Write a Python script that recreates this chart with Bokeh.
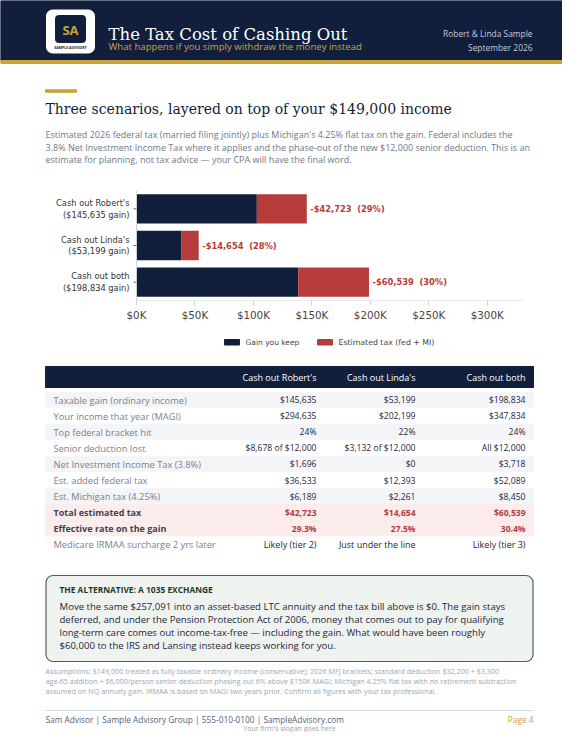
from bokeh.plotting import figure
from bokeh.layouts import column
from bokeh.models import Range1d, FactorRange, FixedTicker, ColumnDataSource
from bokeh.core.properties import value
from bokeh.embed import file_html
from bokeh.resources import INLINE

# ---------------- data ----------------
scenarios = ["Cash out Robert's", "Cash out Linda's", "Cash out both"]
gains = [145635, 53199, 198834]
taxes = [42723, 14654, 60539]
x_max = 331000
tick_values = [0, 50000, 100000, 150000, 200000, 250000, 300000]
tick_labels = ["$0K", "$50K", "$100K", "$150K", "$200K", "$250K", "$300K"]
series_names = ["Gain you keep", "Estimated tax (fed + MI)"]

col_heads = ["Cash out Robert's", "Cash out Linda's", "Cash out both"]
row_labels = ["Taxable gain (ordinary income)", "Your income that year (MAGI)",
              "Top federal bracket hit", "Senior deduction lost",
              "Net Investment Income Tax (3.8%)", "Est. added federal tax",
              "Est. Michigan tax (4.25%)", "Total estimated tax",
              "Effective rate on the gain", "Medicare IRMAA surcharge 2 yrs later"]
robert_col = ["$145,635", "$294,635", "24%", "$8,678 of $12,000", "$1,696", "$36,533",
              "$6,189", "$42,723", "29.3%", "Likely (tier 2)"]
linda_col = ["$53,199", "$202,199", "22%", "$3,132 of $12,000", "$0", "$12,393",
             "$2,261", "$14,654", "27.5%", "Just under the line"]
both_col = ["$198,834", "$347,834", "24%", "All $12,000", "$3,718", "$52,089",
            "$8,450", "$60,539", "30.4%", "Likely (tier 3)"]

# ---------------- styles ----------------
NAVY = "#111f3c"
GOLD = "#c9a23c"
RED = "#b63b3b"
SANS = "Open Sans"
SERIF = "DejaVu Serif"
W = 562


def page_fig(y0, y1):
    p = figure(width=W, height=y1 - y0, x_range=Range1d(0, W), y_range=Range1d(y1, y0),
               output_backend="svg", toolbar_location=None, min_border=0,
               x_axis_location=None, y_axis_location=None, outline_line_color=None)
    p.grid.visible = False
    p.background_fill_color = "white"
    p.border_fill_color = "white"
    return p


def txt(p, x, y, s, size, color, font=SANS, style="normal", align="left", baseline="middle"):
    p.text(x=[x], y=[y], text=[s], text_font=value(font), text_font_size=size,
           text_color=color, text_font_style=style, text_align=align, text_baseline=baseline)


# ---------------- top section ----------------
p1 = page_fig(0, 185)
p1.quad(left=[0], right=[W], top=[0], bottom=[60], color=NAVY)
p1.quad(left=[0], right=[W], top=[60], bottom=[63], color=GOLD)
p1.quad(left=[46], right=[94], top=[9.5], bottom=[52.5], color="white", border_radius=6)
p1.quad(left=[55], right=[85], top=[15], bottom=[42], color=NAVY, border_radius=3)
txt(p1, 70, 29, "SA", "13px", GOLD, style="bold", align="center")
txt(p1, 70, 47, "SAMPLE ADVISORY", "3.5px", NAVY, style="bold", align="center")
txt(p1, 108, 34, "The Tax Cost of Cashing Out", "16.5px", "white", font=SERIF, baseline="alphabetic")
txt(p1, 108, 45.5, "What happens if you simply withdraw the money instead", "9.6px", GOLD)
txt(p1, 532, 33, "Robert & Linda Sample", "8.4px", "#c3cad8", align="right")
txt(p1, 532, 46.5, "September 2026", "8.4px", "#c3cad8", align="right")

p1.quad(left=[45], right=[76], top=[89.3], bottom=[91.8], color=GOLD)
txt(p1, 45, 108.5, "Three scenarios, layered on top of your $149,000 income", "14px", NAVY,
    font=SERIF, baseline="alphabetic")
para = ["Estimated 2026 federal tax (married filing jointly) plus Michigan's 4.25% flat tax on the gain. Federal includes the",
        "3.8% Net Investment Income Tax where it applies and the phase-out of the new $12,000 senior deduction. This is an",
        "estimate for planning, not tax advice \u2014 your CPA will have the final word."]
for i, line in enumerate(para):
    txt(p1, 45, 134.3 + 12.5 * i, line, "9px", "#707888")

# ---------------- chart ----------------
AX_L, AX_R = 136, 523                     # pixel extent of the value axis
px_per = (AX_R - AX_L) / x_max
keep = [g - t for g, t in zip(gains, taxes)]
labels = [f"-${t:,} \u00a0({round(100 * t / g)}%)" for g, t in zip(gains, taxes)]
ylabels = [f"{s}\n(${g:,} gain)" for s, g in zip(scenarios, gains)]
src = ColumnDataSource(dict(scenario=scenarios, keep=keep, tax=taxes, gain=gains,
                            label=labels, ylabel=ylabels, zero=[0] * 3,
                            tick=[-3 / px_per] * 3))

p2 = figure(width=W, height=145, x_range=Range1d(-AX_L / px_per, (W - AX_L) / px_per),
            y_range=FactorRange(factors=scenarios[::-1]),
            output_backend="svg", toolbar_location=None, y_axis_location=None,
            min_border_left=0, min_border_right=0, min_border_top=5, min_border_bottom=30,
            outline_line_color=None)
p2.hbar_stack(["keep", "tax"], y="scenario", height=0.8, color=[NAVY, RED], source=src,
              line_color=None)
p2.text(x="gain", y="scenario", text="label", source=src, x_offset=3.5, text_baseline="middle",
        text_font=value("DejaVu Sans"), text_font_size="8.3px", text_font_style="bold",
        text_color=RED)
# value-axis baseline and category axis line / ticks / labels
p2.segment(x0=[0], x1=[x_max], y0=[0], y1=[0], line_color="#ccd3dd", line_width=1)
p2.segment(x0=[0], x1=[0], y0=[0], y1=[len(scenarios)], line_color="#ccd3dd", line_width=1)
p2.segment(x0="tick", x1="zero", y0="scenario", y1="scenario", source=src,
           line_color="#666666", line_width=1)
p2.text(x="zero", y="scenario", text="ylabel", source=src, x_offset=-7, text_align="right",
        text_baseline="middle", text_font=value("DejaVu Sans"), text_font_size="8.3px",
        text_color="#333333", text_line_height=1.15)
p2.grid.visible = False
p2.xaxis.ticker = FixedTicker(ticks=tick_values)
p2.xaxis.major_label_overrides = dict(zip(tick_values, tick_labels))
p2.xaxis.axis_line_color = None
p2.xaxis.major_tick_line_color = "#ccd3dd"
p2.xaxis.major_tick_out = 5
p2.xaxis.major_tick_in = 0
p2.xaxis.minor_tick_line_color = None
p2.xaxis.major_label_text_font = "DejaVu Sans"
p2.xaxis.major_label_text_font_size = "10.3px"
p2.xaxis.major_label_text_color = "#444444"
p2.xaxis.major_label_standoff = 3
p2.background_fill_color = "white"
p2.border_fill_color = "white"

# ---------------- lower section ----------------
p3 = page_fig(330, 732)
# legend
p3.quad(left=[224], right=[239], top=[339], bottom=[344.5], color=NAVY)
txt(p3, 245, 342, series_names[0], "7.5px", "#444444", font="DejaVu Sans")
p3.quad(left=[317], right=[332], top=[339], bottom=[344.5], color=RED)
txt(p3, 338, 342, series_names[1], "7.8px", "#444444", font="DejaVu Sans")

# table header
p3.quad(left=[45], right=[533], top=[366], bottom=[387], color=NAVY)
col_x = [316, 415, 525]
for cx, h in zip(col_x, col_heads):
    txt(p3, cx, 377, h, "9px", "white", align="right")

row_fill = ["#f3f5f8", "#ffffff", "#f3f5f8", "#ffffff", "#f3f5f8", "#ffffff", "#f3f5f8",
            "#fcecec", "#fcecec", "#ffffff"]
rh = 16.1
for i, lab in enumerate(row_labels):
    top = 391.5 + rh * i
    yc = top + rh / 2
    p3.quad(left=[45], right=[533], top=[top], bottom=[top + rh], color=row_fill[i])
    if i in (7, 8):
        txt(p3, 53, yc, lab, "9px", "#3f4452", style="bold")
        vcol, vstyle, vsize = "#b23a3e", "bold", "8.5px"
    elif i == 9:
        txt(p3, 53, yc, lab, "9.3px", "#7a808c")
        vcol, vstyle, vsize = "#1c1f26", "normal", "9px"
    else:
        txt(p3, 53, yc, lab, "9.3px", "#7a808c")
        vcol, vstyle, vsize = "#1e2740", "normal", "8.6px"
    for cx, colv in zip(col_x, [robert_col, linda_col, both_col]):
        txt(p3, cx, yc, colv[i], vsize, vcol, style=vstyle, align="right")

# callout
p3.quad(left=[45.5], right=[532.5], top=[575], bottom=[661], fill_color="#eef3ef",
        line_color="#4d6357", line_width=1.2, border_radius=7)
txt(p3, 59, 589, "THE ALTERNATIVE: A 1035 EXCHANGE", "8.4px", "#1f3a2b", style="bold")
callout = ["Move the same $257,091 into an asset-based LTC annuity and the tax bill above is $0. The gain stays",
           "deferred, and under the Pension Protection Act of 2006, money that comes out to pay for qualifying",
           "long-term care comes out income-tax-free \u2014 including the gain. What would have been roughly",
           "$60,000 to the IRS and Lansing instead keeps working for you."]
for i, line in enumerate(callout):
    txt(p3, 59, 605.5 + 13.2 * i, line, "9.6px", "#1e2740")

assump = ["Assumptions: $149,000 treated as fully taxable ordinary income (conservative); 2026 MFJ brackets; standard deduction $32,200 + $3,300",
          "age-65 addition + $6,000/person senior deduction phasing out 6% above $150K MAGI; Michigan 4.25% flat tax with no retirement subtraction",
          "assumed on NQ annuity gain. IRMAA is based on MAGI two years prior. Confirm all figures with your tax professional."]
for i, line in enumerate(assump):
    txt(p3, 45, 670 + 10.3 * i, line, "7.2px", "#a0a6b0")

p3.segment(x0=[45], x1=[533], y0=[710], y1=[710], line_color="#d3dae4", line_width=1)
txt(p3, 45, 718.5, "Sam Advisor  |  Sample Advisory Group  |  555-010-0100  |  SampleAdvisory.com", "8.3px", "#566078")
txt(p3, 533, 718.5, "Page 4", "8.3px", GOLD, align="right")
txt(p3, 289, 728, "Your firm's slogan goes here", "7px", "#9ba1ab", align="center")

layout = column(p1, p2, p3, spacing=0)
open("out.html", "w").write(file_html(layout, INLINE))
